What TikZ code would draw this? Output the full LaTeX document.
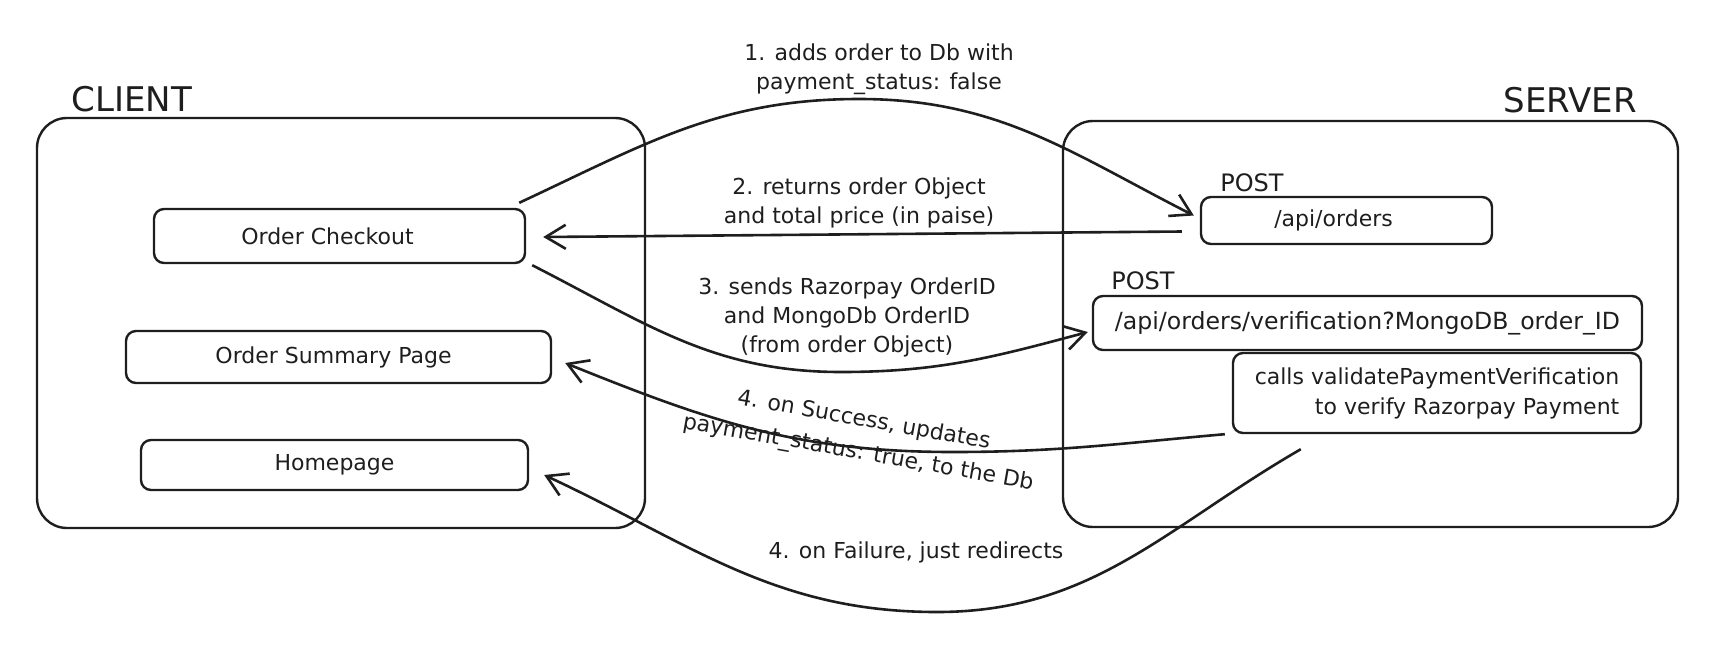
\documentclass[tikz,border=0pt]{standalone}
\usepackage{fontspec}
\setmainfont{DejaVu Sans}
\usetikzlibrary{arrows.meta}
\definecolor{ink}{HTML}{1E1E1E}
\begin{document}
\begin{tikzpicture}[x=0.5pt,y=-0.5pt,
  frame/.style={draw=ink, line width=1.2pt, rounded corners=15pt, inner sep=0pt},
  box/.style={draw=ink, line width=1.2pt, rounded corners=5pt, inner sep=0pt,
    font=\fontsize{11}{15}\selectfont, text=ink},
  title/.style={font=\fontsize{17}{20}\selectfont, text=ink, inner sep=0pt},
  method/.style={font=\fontsize{12}{14}\selectfont, text=ink, inner sep=0pt},
  lbl/.style={font=\fontsize{11}{14.5}\selectfont, align=center, inner sep=0pt, text=ink},
  flow/.style={draw=ink, line width=1.3pt, -{Straight Barb[length=10pt,width=12pt]}}]
\useasboundingbox (0,0) rectangle (1731,644);

% client side
\node[frame, minimum width=304pt, minimum height=205pt] (client) at (341,323) {};
\node[title] (clientlbl) at (132,99) {CLIENT};
\node[box, minimum width=185.5pt, minimum height=27pt] (oc) at (339.5,236) {Order Checkout\hspace{12pt}\null};
\node[box, minimum width=212.5pt, minimum height=26pt] (osp) at (338.5,357) {Order Summary Page\hspace{5pt}\null};
\node[box, minimum width=193.5pt, minimum height=25pt] (home) at (334.5,465) {Homepage};

% server side
\node[frame, minimum width=307.5pt, minimum height=203pt] (server) at (1370.5,324) {};
\node[title] (serverlbl) at (1570,100) {SERVER};
\node[method] (post1) at (1252,183) {POST};
\node[box, minimum width=145.5pt, minimum height=23.5pt] (api) at (1346.5,220.5) {/api/orders\hspace{13pt}\null};
\node[method] (post2) at (1143,281) {POST};
\node[box, minimum width=274.5pt, minimum height=27pt, font=\fontsize{11.8}{14}\selectfont] (ver) at (1367.5,323) {/api/orders/verification?MongoDB\_order\_ID};
\node[box, minimum width=204pt, minimum height=40pt, align=right] (calls) at (1437,393) {calls validatePaymentVerification\\to verify Razorpay Payment};

% connectors
\coordinate (p1) at (859,99);
\draw[flow] ([shift={(-7,-5)}]oc.north east) to[out=25,in=180] (p1) to[out=0,in=153] ([shift={(-6,-5)}]api.west);

\draw[flow] ([shift={(-18,11)}]api.west) -- ([shift={(17,1)}]oc.east);

\coordinate (p3) at (841,372);
\draw[flow] ([shift={(6,1)}]oc.south east) to[out=-27,in=180] (p3) to[out=0,in=195] ([shift={(-4,9)}]ver.west);

\coordinate (p4) at (953,452);
\draw[flow] ([shift={(-7,0)}]calls.south west) to[out=185,in=0] (p4) to[out=180,in=-22] ([shift={(13,6)}]osp.east);

\coordinate (p5) at (937,612);
\draw[flow] ([shift={(69,15)}]calls.south west) to[out=210,in=0] (p5) to[out=180,in=-25] ([shift={(15,10)}]home.east);

% labels
\node[lbl] (l1) at (879,69) {1. adds order to Db with\\payment\_status: false};
\node[lbl] (l2) at (859,203) {2. returns order Object\\and total price (in paise)};
\node[lbl] (l3) at (847,317) {3. sends Razorpay OrderID\\and MongoDb OrderID\\(from order Object)};
\node[lbl, rotate=-10, font=\fontsize{11}{16.5}\selectfont] (l4) at (861,437) {4. on Success, updates\\payment\_status: true, to the Db};
\node[lbl] (l5) at (916,552) {4. on Failure, just redirects};
\end{tikzpicture}
\end{document}
